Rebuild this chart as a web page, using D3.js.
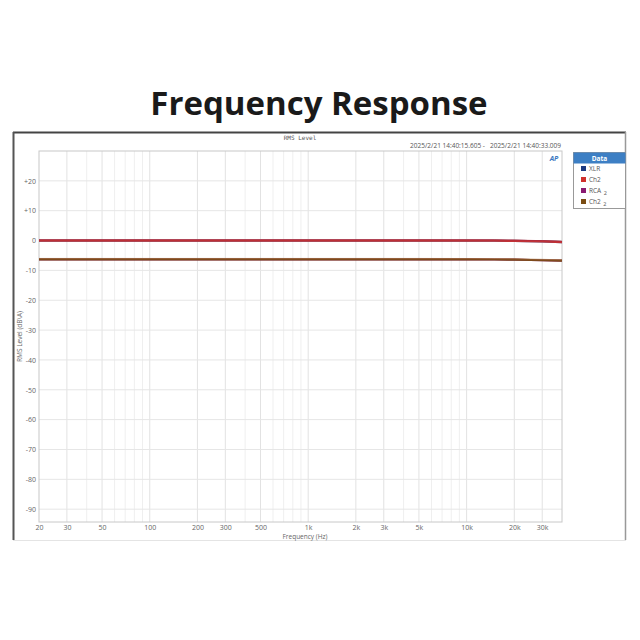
<!DOCTYPE html>
<html><head><meta charset="utf-8">
<script src="https://cdn.jsdelivr.net/npm/d3@7"></script>
<style>html,body{margin:0;padding:0;background:#fff;}</style>
</head><body>
<svg id="c" width="640" height="640"></svg>
<script>
const freqs = [20, 50, 100, 200, 500, 1000, 2000, 5000, 10000, 15000, 20000, 30000, 40000];
const xlr   = [0, 0, 0, 0, 0, 0, 0, 0, -0.02, -0.06, -0.12, -0.3, -0.5];
const ch2   = [0, 0, 0, 0, 0, 0, 0, 0, -0.02, -0.06, -0.12, -0.3, -0.5];
const rca2  = [-6.3, -6.3, -6.3, -6.3, -6.3, -6.3, -6.3, -6.3, -6.32, -6.36, -6.42, -6.6, -6.75];
const ch22  = [-6.3, -6.3, -6.3, -6.3, -6.3, -6.3, -6.3, -6.3, -6.32, -6.36, -6.42, -6.6, -6.75];
const seriesNames = ["XLR", "Ch2", "RCA", "Ch2"];
const seriesSubs = ["", "", "2", "2"];
const seriesColors = ["#1c3a80", "#d0302c", "#8a1a70", "#7a4c12"];
const xTickVals = [20, 30, 50, 100, 200, 300, 500, 1000, 2000, 3000, 5000, 10000, 20000, 30000];
const xTickLabels = ["20", "30", "50", "100", "200", "300", "500", "1k", "2k", "3k", "5k", "10k", "20k", "30k"];
const yTickVals = [20, 10, 0, -10, -20, -30, -40, -50, -60, -70, -80, -90];
const yTickLabels = ["+20", "+10", "0", "-10", "-20", "-30", "-40", "-50", "-60", "-70", "-80", "-90"];

const svg = d3.select("#c");
const font = "'Open Sans', 'Noto Sans', sans-serif";
const L = 39, R = 562, T = 151, B = 522;
const x = d3.scaleLog().domain([20, 40000]).range([L, R]);
const y = d3.scaleLinear().domain([30, -94.3]).range([T, B]);

// title
svg.append("text").attr("x", 319).attr("y", 115).attr("text-anchor", "middle")
  .attr("font-family", font).attr("font-weight", 700).attr("font-size", 33)
  .attr("fill", "#1a1a1a").text("Frequency Response");

// outer frame
svg.append("line").attr("x1", 13).attr("x2", 626).attr("y1", 132.5).attr("y2", 132.5).attr("stroke", "#444").attr("stroke-width", 2);
svg.append("line").attr("x1", 13.5).attr("x2", 13.5).attr("y1", 132).attr("y2", 540).attr("stroke", "#555").attr("stroke-width", 2);
svg.append("line").attr("x1", 625.5).attr("x2", 625.5).attr("y1", 132).attr("y2", 540).attr("stroke", "#999").attr("stroke-width", 1.5);
svg.append("line").attr("x1", 13).attr("x2", 626).attr("y1", 540.5).attr("y2", 540.5).attr("stroke", "#e4e4e4").attr("stroke-width", 1);

// grid
const minor = [];
for (let d = 10; d <= 10000; d *= 10) for (let k = 1; k <= 9; k++) { const f = d * k; if (f > 20 && f < 40000) minor.push(f); }
const g = svg.append("g");
g.selectAll(".vm").data(minor).join("line")
  .attr("x1", d => x(d)).attr("x2", d => x(d)).attr("y1", T).attr("y2", B)
  .attr("stroke", d => xTickVals.includes(d) ? "#e2e2e2" : "#efefef").attr("stroke-width", 1);
g.selectAll(".hm").data(yTickVals).join("line")
  .attr("x1", L).attr("x2", R).attr("y1", d => y(d)).attr("y2", d => y(d))
  .attr("stroke", "#e6e6e6").attr("stroke-width", 1);
svg.append("rect").attr("x", L).attr("y", T).attr("width", R - L).attr("height", B - T)
  .attr("fill", "none").attr("stroke", "#c8c8c8").attr("stroke-width", 1);

// axes
const xAxis = d3.axisBottom(x).tickValues(xTickVals).tickFormat((d, i) => xTickLabels[i]).tickSize(0).tickPadding(3);
const xa = svg.append("g").attr("transform", `translate(0,${B})`).call(xAxis);
xa.select(".domain").remove();
xa.selectAll("text").attr("font-family", font).attr("font-size", 7).attr("fill", "#666");
const yAxis = d3.axisLeft(y).tickValues(yTickVals).tickFormat((d, i) => yTickLabels[i]).tickSize(0).tickPadding(3);
const ya = svg.append("g").attr("transform", `translate(${L},0)`).call(yAxis);
ya.select(".domain").remove();
ya.selectAll("text").attr("font-family", font).attr("font-size", 7).attr("fill", "#666");

svg.append("text").attr("x", 305).attr("y", 539).attr("text-anchor", "middle")
  .attr("font-family", font).attr("font-size", 6.5).attr("fill", "#666").text("Frequency (Hz)");
svg.append("text").attr("transform", `translate(22,${(T + B) / 2}) rotate(-90)`).attr("text-anchor", "middle")
  .attr("font-family", font).attr("font-size", 6.5).attr("fill", "#666").text("RMS Level (dB\\A)");

svg.append("text").attr("x", 300).attr("y", 140).attr("text-anchor", "middle")
  .attr("font-family", "'DejaVu Sans Mono', monospace").attr("font-size", 6).attr("fill", "#555").text("RMS Level");
svg.append("text").attr("x", 561).attr("y", 148).attr("text-anchor", "end")
  .attr("font-family", font).attr("font-size", 6.5).attr("fill", "#555")
  .attr("xml:space", "preserve").text("2025/2/21 14:40:15.605 -   2025/2/21 14:40:33.009");
svg.append("text").attr("x", 554).attr("y", 161).attr("text-anchor", "middle")
  .attr("font-family", font).attr("font-style", "italic").attr("font-weight", 700).attr("font-size", 7)
  .attr("fill", "#3a78c0").text("AP");

// lines
const allSeries = [xlr, ch2, rca2, ch22];
const line = d3.line().x((d, i) => x(freqs[i])).y(d => y(d)).curve(d3.curveMonotoneX);
const lg = svg.append("g");
[0, 1, 2, 3].forEach(i => {
  lg.append("path").attr("d", line(allSeries[i])).attr("fill", "none")
    .attr("stroke", seriesColors[i]).attr("stroke-width", 2.2).attr("opacity", 0.9);
});
lg.append("path").attr("d", line(ch2)).attr("fill", "none").attr("stroke", "#b02a3c").attr("stroke-width", 0.8).attr("transform", "translate(0,-0.8)");
lg.append("path").attr("d", line(ch22)).attr("fill", "none").attr("stroke", "#a06a3a").attr("stroke-width", 0.6).attr("transform", "translate(0,-0.9)");

// legend
const lx = 573, ly = 152, lw = 52, lh = 56;
svg.append("rect").attr("x", lx + 0.5).attr("y", ly + 0.5).attr("width", lw).attr("height", lh)
  .attr("fill", "#fff").attr("stroke", "#999").attr("stroke-width", 1);
svg.append("rect").attr("x", lx + 0.5).attr("y", ly + 0.5).attr("width", lw).attr("height", 11)
  .attr("fill", "#3d7fc4");
svg.append("text").attr("x", lx + lw / 2 + 0.5).attr("y", ly + 8.5).attr("text-anchor", "middle")
  .attr("font-family", font).attr("font-weight", 700).attr("font-size", 6.5).attr("fill", "#fff").text("Data");
const itemY = [169, 180, 191, 202];
seriesNames.forEach((n, i) => {
  svg.append("rect").attr("x", 581).attr("y", itemY[i] - 3).attr("width", 5).attr("height", 5).attr("fill", seriesColors[i]);
  const t = svg.append("text").attr("x", 589).attr("y", itemY[i] + 2).attr("font-family", font)
    .attr("font-size", 6.5).attr("fill", "#555").text(n);
  if (seriesSubs[i]) t.append("tspan").attr("dx", 2.5).attr("dy", 2).attr("font-size", 5.5).text(seriesSubs[i]);
});
</script>
</body></html>
